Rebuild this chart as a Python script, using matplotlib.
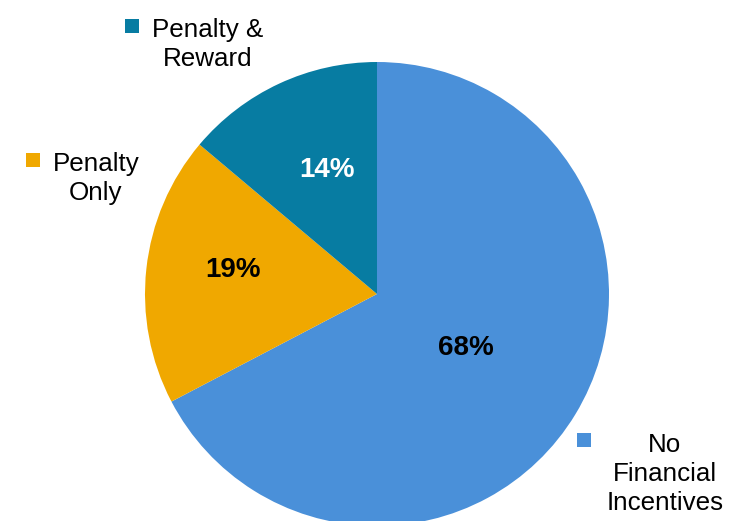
import matplotlib.pyplot as plt

# share of programmes by incentive type
categories = ['No Financial Incentives', 'Penalty Only', 'Penalty & Reward']
shares = [68, 19, 14]
colors = ['#4A90D9', '#F0A800', '#077CA2']
pct_colors = ['black', 'black', 'white']

# legend entries: wrapped label lines for each category
legend_lines = [['No', 'Financial', 'Incentives'], ['Penalty', 'Only'], ['Penalty &', 'Reward']]

W, H = 730, 521
fig = plt.figure(figsize=(W / 100, H / 100), dpi=100)
ax = fig.add_axes([0, 0, 1, 1])
ax.set_xlim(0, W)
ax.set_ylim(0, H)
ax.axis('off')

def py(y):
    # pixel rows counted from the top
    return H - y

wedges, _ = ax.pie(shares, colors=colors, startangle=90, counterclock=False,
                   center=(377, py(294)), radius=232, frame=True,
                   wedgeprops=dict(linewidth=0))
ax.set_xlim(0, W)
ax.set_ylim(0, H)
ax.axis('off')

font = ['Liberation Sans', 'DejaVu Sans']

# percentage labels inside the slices (x centre, baseline)
pct_pos = [(466, 355), (233, 277), (327, 177)]
for val, (x, y), c in zip(shares, pct_pos, pct_colors):
    ax.text(x, py(y), f'{val}%', ha='center', va='baseline', fontsize=20,
            fontweight='bold', color=c, family=font)

# legend markers and centred text blocks beside each slice
marker_pos = [(584, 440), (33, 160), (132, 26)]
text_pos = [(665, 452), (96, 171), (208, 37)]
line_step = 29
for lines, (mx, my), (tx, ty), c in zip(legend_lines, marker_pos, text_pos, colors):
    ax.scatter([mx], [py(my)], marker='s', s=100, color=c, linewidths=0)
    for i, line in enumerate(lines):
        ax.text(tx, py(ty + i * line_step), line, ha='center', va='baseline',
                fontsize=18.7, color='black', family=font)

fig.savefig('out.png', dpi=100, facecolor='white')
